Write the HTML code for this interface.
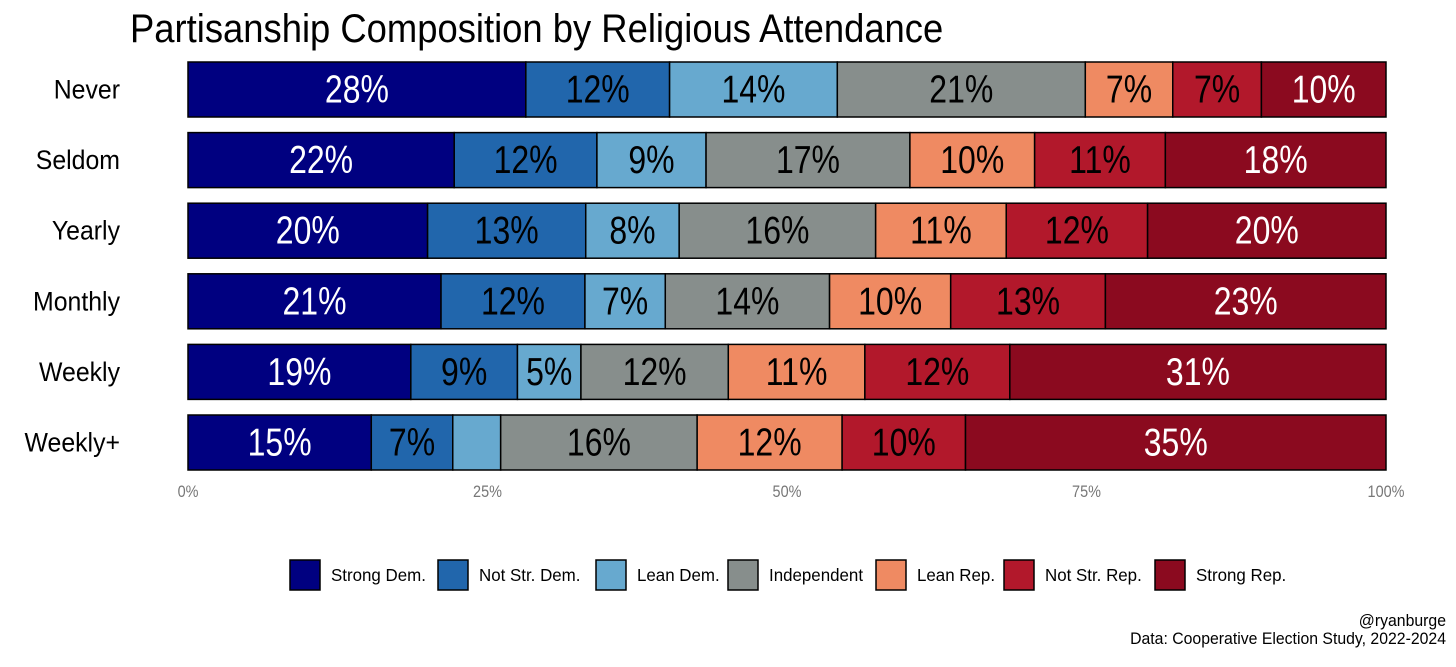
<!DOCTYPE html>
<html><head><meta charset="utf-8"><style>
body{margin:0;background:#fff;}
svg text{font-family:"Liberation Sans",sans-serif;}
</style></head><body>
<svg id="chart" width="1456" height="662" viewBox="0 0 1456 662" xmlns="http://www.w3.org/2000/svg">
<rect width="1456" height="662" fill="#fff"/>
<text transform="translate(130,42) scale(0.91,1)" font-size="40" fill="#000">Partisanship Composition by Religious Attendance</text>
<g id="bars"></g><g id="ticks"></g><g id="legend"></g>
<text transform="translate(1446,626) scale(0.93,1)" text-anchor="end" font-size="17" fill="#000">@ryanburge</text>
<text transform="translate(1446,644) scale(0.93,1)" text-anchor="end" font-size="17" fill="#000">Data: Cooperative Election Study, 2022-2024</text>
</svg>
<script>
const categories = ["Never","Seldom","Yearly","Monthly","Weekly","Weekly+"];
const seriesNames = ["Strong Dem.","Not Str. Dem.","Lean Dem.","Independent","Lean Rep.","Not Str. Rep.","Strong Rep."];
const strongDem = [28.2,22.2,20.0,21.1,18.6,15.3];
const notStrDem = [12.0,11.9,13.2,12.0,8.9,6.8];
const leanDem = [14.0,9.1,7.8,6.7,5.3,4.0];
const independent = [20.7,17.0,16.4,13.7,12.3,16.4];
const leanRep = [7.3,10.4,10.9,10.1,11.4,12.1];
const notStrRep = [7.4,10.9,11.8,12.9,12.1,10.3];
const strongRep = [10.4,18.4,19.9,23.4,31.4,35.1];
const tickValues = [0,25,50,75,100];
const series = [strongDem,notStrDem,leanDem,independent,leanRep,notStrRep,strongRep];
const colors = ["#000080","#2166ac","#67a9cf","#878e8c","#ef8a62","#b2182b","#8b0a1f"];
const textColors = ["#fff","#000","#000","#000","#000","#000","#fff"];
const NS="http://www.w3.org/2000/svg";
const x0=188,x1=1386;
function xs(v){return x0+(x1-x0)*v/100;}
function ys(i){return 62+i*70.6;}
const bh=55;
function mk(tag,attrs,parent){const e=document.createElementNS(NS,tag);for(const k in attrs)e.setAttribute(k,attrs[k]);parent.appendChild(e);return e;}
function txt(x,y,s,sc,attrs,parent){const t=mk('text',Object.assign({transform:'translate('+x+','+y+') scale('+sc+',1)'},attrs),parent);t.textContent=s;return t;}
const bars=document.getElementById('bars');
categories.forEach((c,i)=>{
  const y=ys(i);
  const lab=txt(120,y+bh/2+9,c,0.92,{'text-anchor':'end','font-size':27,fill:'#000'},bars);
  
  
  let tot=series.reduce((s,a)=>s+a[i],0);
  let cum=0;
  series.forEach((arr,j)=>{
    const v=arr[i]/tot*100;
    const r=mk('rect',{x:xs(cum),y:y,width:xs(cum+v)-xs(cum),height:bh,fill:colors[j],stroke:'#000','stroke-width':1.5},bars);
    
    
    if(Math.round(arr[i])>=5){
      const t=txt((xs(cum)+xs(cum+v))/2,y+bh/2+13,Math.round(arr[i])+'%',0.82,{'text-anchor':'middle','font-size':39,fill:textColors[j]},bars);
      
      
    }
    cum+=v;
  });
});
const ticks=document.getElementById('ticks');
tickValues.forEach(v=>{
  const t=txt(xs(v),497,v+'%',0.85,{'text-anchor':'middle','font-size':17,fill:'#777'},ticks);
  
  
});
const legX=[290,438,596,728,876,1004,1155];
const leg=document.getElementById('legend');
seriesNames.forEach((n,j)=>{
  const r=mk('rect',{x:legX[j],y:560,width:30,height:30,fill:colors[j],stroke:'#000','stroke-width':1.5},leg);
  
  
  const t=txt(legX[j]+41,581,n,0.94,{'font-size':18,fill:'#000'},leg);
  
  
});
</script>
</body></html>
